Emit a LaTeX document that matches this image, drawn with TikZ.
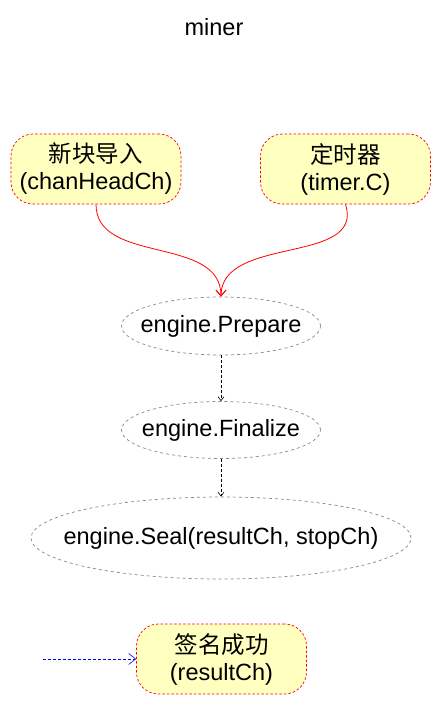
\documentclass[tikz,border=0pt]{standalone}
\usepackage{fontspec}
\setmainfont{Liberation Sans}
\newfontfamily\cjk{Noto Sans CJK SC}
\usetikzlibrary{shapes.geometric,arrows.meta}
\definecolor{boxfill}{HTML}{FFFFC0}
\definecolor{elgray}{HTML}{888888}
\begin{document}
\begin{tikzpicture}[x=1pt,y=-1pt,
  font=\fontsize{23.5}{27}\selectfont,
  rbox/.style={draw=red, dash pattern=on 2.5pt off 2pt, fill=boxfill, rounded corners=22pt,
     minimum width=170pt, minimum height=70pt, align=center, inner sep=0pt, line width=0.7pt},
  oval/.style={ellipse, draw=elgray, dash pattern=on 3pt off 3pt, line width=0.7pt, inner sep=0pt},
  redarr/.style={draw=red, line width=0.8pt, -{Straight Barb[length=6pt,width=10pt]}},
  blkarr/.style={draw=black, line width=0.6pt, dash pattern=on 3pt off 2pt, -{Straight Barb[length=4pt,width=6pt]}},
  bluarr/.style={draw=blue, line width=0.6pt, dash pattern=on 3pt off 2pt, -{Straight Barb[length=7pt,width=11pt]}}]
\useasboundingbox (0,0) rectangle (441,705);
\node (title) at (214,27) {miner};
\node[rbox] (b1) at (96,169) {{\cjk 新块导入}\\(chanHeadCh)};
\node[rbox] (b2) at (345.5,169) {{\cjk 定时器}\\(timer.C)};
\node[oval, minimum width=199pt, minimum height=58pt] (prep) at (221,326) {\makebox[0pt]{engine.Prepare}};
\node[oval, minimum width=199pt, minimum height=57pt] (fin) at (221,430) {\makebox[0pt]{engine.Finalize}};
\node[oval, minimum width=380pt, minimum height=82pt] (seal) at (221,538) {\makebox[0pt]{engine.Seal(resultCh, stopCh)}};
\node[rbox] (b3) at (221.5,659) {{\cjk 签名成功}\\(resultCh)};
\coordinate (src) at (43,659);
\draw[redarr] (b1.south) .. controls (96,265) and (221,235) .. (prep.north);
\draw[redarr] (b2.south) .. controls (365,265) and (221,235) .. (prep.north);
\draw[blkarr] (prep.south) -- (fin.north);
\draw[blkarr] (fin.south) -- (seal.north);
\draw[bluarr] (src) -- (b3.west);
\end{tikzpicture}
\end{document}
